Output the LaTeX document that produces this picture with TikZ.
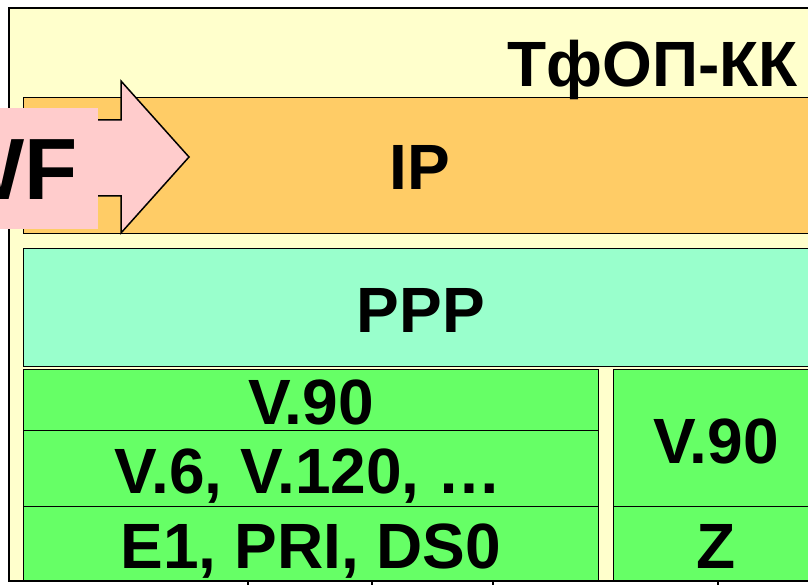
\documentclass[tikz,border=0pt]{standalone}
\usepackage{fontspec}
\setmainfont{Liberation Sans}
\usetikzlibrary{positioning}
\definecolor{jaune}{HTML}{FFFFCC}
\definecolor{ipcol}{HTML}{FFCC66}
\definecolor{pppcol}{HTML}{99FFCC}
\definecolor{vert}{HTML}{66FF66}
\definecolor{rose}{HTML}{FFCCCC}

\begin{document}
\begin{tikzpicture}[x=1pt,y=-1pt,
  couche/.style={draw=black,line width=1.3pt,anchor=north west,inner sep=0pt},
  etiq/.style={font=\bfseries\fontsize{64}{64}\selectfont,inner sep=0pt,anchor=base}]
\useasboundingbox (0,0) rectangle (808,585);
\clip (0,0) rectangle (808,585);

  % cadre
\node[couche,line width=2pt,fill=jaune,minimum width=850pt,minimum height=573pt] (cadre) at (8,7) {};

  % couches
\node[couche,fill=ipcol,minimum width=850pt,minimum height=136pt] (ip) at (23,97) {};
\node[couche,fill=pppcol,minimum width=850pt,minimum height=118pt] (ppp) at (23,248) {};

% colonne gauche
\node[couche,fill=vert,minimum width=575pt,minimum height=61pt] (g1) at (23,369) {};
\node[couche,fill=vert,minimum width=575pt,minimum height=76pt] (g2) at (23,430) {};
\node[couche,fill=vert,minimum width=575pt,minimum height=74pt] (g3) at (23,506) {};

% colonne droite
\node[couche,fill=vert,minimum width=250pt,minimum height=137pt] (d1) at (613,369) {};
\node[couche,fill=vert,minimum width=250pt,minimum height=74pt] (d2) at (613,506) {};

  % textes
\node[etiq,anchor=base east] (titre) at (798,87) {ТфОП-КК};
\node[etiq] (iptxt) at (420,190) {IP};
\node[etiq] (ppptxt) at (421,332) {PPP};
\node[etiq] (g1txt) at (311,424) {V.90};
\node[etiq] (g2txt) at (308,493) {V.6, V.120, …};
\node[etiq] (g3txt) at (311,568) {E1, PRI, DS0};
\node[etiq] (d1txt) at (716,463) {V.90};
\node[etiq] (d2txt) at (716,568) {Z};

  % fleche
\coordinate (f1) at (40,120);
\coordinate (f2) at (121,120);
\coordinate (f3) at (121,81);
\coordinate (f4) at (189,157);
\coordinate (f5) at (121,233);
\coordinate (f6) at (121,196);
\coordinate (f7) at (40,196);
\draw[line width=1.5pt,fill=rose,line join=miter] (f1) -- (f2) -- (f3) -- (f4) -- (f5) -- (f6) -- (f7) -- cycle;

\node[fill=rose,anchor=north west,inner sep=0pt,minimum width=108pt,minimum height=121pt] (wfbox) at (-10,108) {};
\node[etiq,font=\bfseries\fontsize{87}{87}\selectfont,anchor=base east] (wf) at (78,200) {WF};

  % bas
\foreach \x in {248,372,493,718}
  \draw[line width=2pt] (\x,581) -- (\x,586);
\end{tikzpicture}
\end{document}
